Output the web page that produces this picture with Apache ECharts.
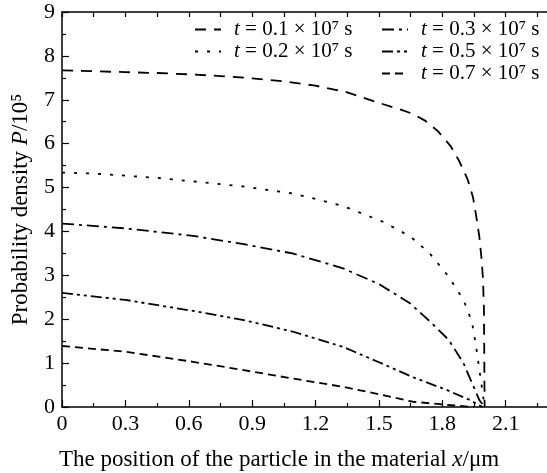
<!DOCTYPE html>
<html>
<head>
<meta charset="utf-8">
<script src="https://cdn.jsdelivr.net/npm/echarts@6/dist/echarts.min.js"></script>
<style>
html,body{margin:0;padding:0;overflow:hidden;background:#fff;}
#c{width:550px;height:473px;}
</style>
</head>
<body>
<div id="c"></div>
<script>
// ---- data ----
const names = ['t01', 't02', 't03', 't05', 't07'];
const labels = ['{i|t} = 0.1 × 10⁷ s', '{i|t} = 0.2 × 10⁷ s', '{i|t} = 0.3 × 10⁷ s', '{i|t} = 0.5 × 10⁷ s', '{i|t} = 0.7 × 10⁷ s'];

const x01 = [0, 0.15, 0.3, 0.45, 0.6, 0.75, 0.9, 1.05, 1.2, 1.35, 1.5, 1.6, 1.66, 1.72, 1.78, 1.84, 1.88, 1.92, 1.945, 1.96, 1.975, 1.985, 1.992, 1.997, 2.0];
const y01 = [7.67, 7.65, 7.63, 7.61, 7.58, 7.54, 7.49, 7.42, 7.32, 7.17, 6.93, 6.78, 6.68, 6.52, 6.28, 5.94, 5.60, 5.18, 4.78, 4.36, 3.88, 3.40, 2.95, 2.2, 0];

const x02 = [0, 0.15, 0.3, 0.45, 0.6, 0.85, 1.1, 1.33, 1.52, 1.65, 1.74, 1.83, 1.9, 1.94, 1.96, 1.98, 2.0];
const y02 = [5.34, 5.32, 5.27, 5.22, 5.15, 5.03, 4.86, 4.58, 4.22, 3.88, 3.50, 2.97, 2.44, 1.94, 1.37, 0.69, 0];

const x03 = [0, 0.3, 0.62, 0.86, 1.09, 1.33, 1.5, 1.645, 1.75, 1.83, 1.9, 1.94, 1.975, 2.0];
const y03 = [4.18, 4.07, 3.90, 3.71, 3.50, 3.16, 2.80, 2.37, 1.91, 1.53, 1.00, 0.55, 0.16, 0];

const x05 = [0, 0.3, 0.62, 0.86, 1.09, 1.33, 1.5, 1.66, 1.82, 1.93, 1.99];
const y05 = [2.60, 2.44, 2.19, 1.98, 1.72, 1.37, 1.02, 0.68, 0.39, 0.16, 0];

const x07 = [0, 0.3, 0.62, 0.86, 1.09, 1.33, 1.5, 1.66, 1.82, 1.95];
const y07 = [1.39, 1.26, 1.03, 0.84, 0.65, 0.46, 0.29, 0.12, 0.05, 0];

const xTicks = [0, 0.3, 0.6, 0.9, 1.2, 1.5, 1.8, 2.1];
const yTicks = [0, 1, 2, 3, 4, 5, 6, 7, 8, 9];

// ---- styles ----
const FONT = 'Liberation Serif';
const dashes = {
  t01: [11, 8],
  t02: [3, 9],
  t03: [12, 5, 3, 5],
  t05: [11, 4, 3, 4, 3, 4],
  t07: [8, 5]
};
const xs = [x01, x02, x03, x05, x07];
const ys = [y01, y02, y03, y05, y07];

const series = names.map((n, k) => ({
  name: n,
  type: 'line',
  symbol: 'none',
  smooth: false,
  xAxisIndex: 0,
  yAxisIndex: 0,
  data: xs[k].map((v, i) => [v, ys[k][i]]),
  lineStyle: { color: '#000', width: 1.8, type: dashes[n] },
  itemStyle: { color: '#000' },
  z: 3
}));

const labelMap = {};
names.forEach((n, k) => labelMap[n] = labels[k]);

const legendCommon = {
  orient: 'vertical',
  itemWidth: 26,
  itemHeight: 14,
  itemGap: 1,
  itemStyle: { opacity: 0 },
  formatter: n => labelMap[n],
  textStyle: {
    fontFamily: FONT, fontSize: 21, color: '#000', padding: [0, 0, 0, 8], lineHeight: 21,
    rich: { i: { fontStyle: 'italic', fontFamily: FONT, fontSize: 21, lineHeight: 21 } }
  },
  selectedMode: false
};

const axisCommon = {
  axisLine: { show: true, onZero: false, lineStyle: { color: '#000', width: 1.5 } },
  splitLine: { show: false }
};

const option = {
  animation: false,
  backgroundColor: '#fff',
  grid: { left: 62, right: 2, top: 12, bottom: 66, containLabel: false, outerBoundsMode: 'none' },
  legend: [
    Object.assign({ data: ['t01', 't02'], left: 189, top: 14 }, legendCommon),
    Object.assign({ data: ['t03', 't05', 't07'], left: 376, top: 14 }, legendCommon)
  ],
  xAxis: [
    Object.assign({
      type: 'value', min: 0, max: 2.3, interval: 0.3, position: 'bottom',
      axisTick: { show: true, inside: true, length: 7, lineStyle: { color: '#000', width: 1.2 } },
      minorTick: { show: true, splitNumber: 2, length: 4, lineStyle: { color: '#000', width: 1.2 } },
      axisLabel: {
        fontFamily: FONT, fontSize: 22, color: '#000', margin: 6,
        formatter: v => (xTicks.some(t => Math.abs(t - v) < 1e-6) ? (v === 0 ? '0' : v.toFixed(1)) : '')
      },
      name: 'The position of the particle in the material {i|x}/μm',
      nameLocation: 'middle', nameGap: 41,
      nameTextStyle: {
        fontFamily: FONT, fontSize: 23, color: '#000', padding: [0, 52, 0, 0],
        rich: { i: { fontStyle: 'italic', fontFamily: FONT, fontSize: 23 } }
      }
    }, axisCommon),
    Object.assign({
      type: 'value', min: 0, max: 2.3, interval: 0.3, position: 'top',
      axisTick: { show: true, inside: true, length: 5, lineStyle: { color: '#000', width: 1.2 } },
      minorTick: { show: true, splitNumber: 2, length: 5, lineStyle: { color: '#000', width: 1.2 } },
      axisLabel: { show: false }
    }, axisCommon)
  ],
  yAxis: [
    Object.assign({
      type: 'value', min: 0, max: 9, interval: 1, position: 'left',
      axisTick: { show: true, inside: true, length: 7, lineStyle: { color: '#000', width: 1.2 } },
      minorTick: { show: true, splitNumber: 2, length: 4, lineStyle: { color: '#000', width: 1.2 } },
      axisLabel: {
        fontFamily: FONT, fontSize: 22, color: '#000', margin: 7,
        formatter: v => (yTicks.indexOf(v) >= 0 ? String(v) : '')
      },
      name: 'Probability density {i|P}/10⁵',
      nameLocation: 'middle', nameGap: 30, nameRotate: 90,
      nameTextStyle: {
        fontFamily: FONT, fontSize: 23, color: '#000',
        rich: { i: { fontStyle: 'italic', fontFamily: FONT, fontSize: 23 } }
      }
    }, axisCommon)
  ],
  series: series
};

const chart = echarts.init(document.getElementById('c'), null, { renderer: 'canvas' });
chart.setOption(option);
</script>
</body>
</html>
